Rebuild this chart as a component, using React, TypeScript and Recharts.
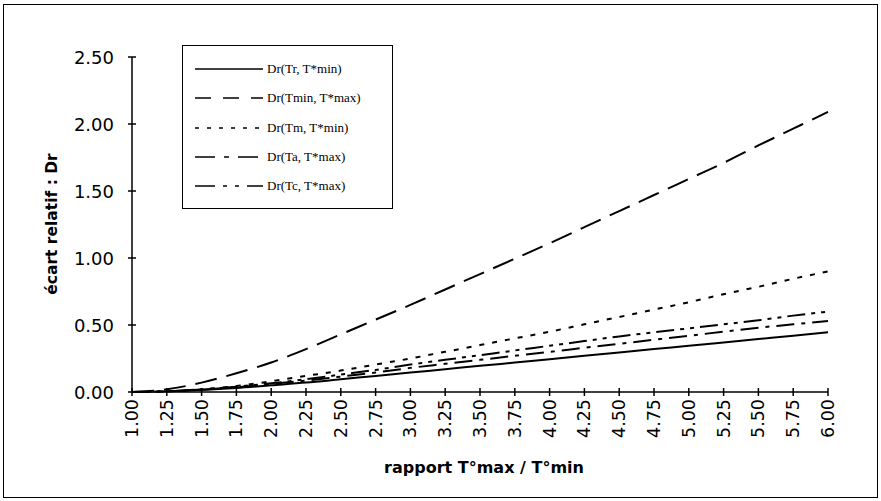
import React from 'react';
import { LineChart, Line, XAxis, YAxis, Legend } from 'recharts';

// rapport T*max / T*min
const ratios = [1.0, 1.25, 1.5, 1.75, 2.0, 2.25, 2.5, 2.75, 3.0, 3.25, 3.5, 3.75, 4.0, 4.25, 4.5, 4.75, 5.0, 5.25, 5.5, 5.75, 6.0];

// écart relatif Dr for each curve
const drTr = [0, 0.005, 0.015, 0.03, 0.05, 0.07, 0.095, 0.12, 0.145, 0.17, 0.195, 0.22, 0.245, 0.27, 0.295, 0.32, 0.345, 0.37, 0.395, 0.42, 0.445];
const drTmin = [0, 0.02, 0.07, 0.14, 0.22, 0.32, 0.43, 0.54, 0.65, 0.765, 0.88, 0.995, 1.11, 1.23, 1.35, 1.47, 1.59, 1.71, 1.84, 1.965, 2.09];
const drTm = [0, 0.005, 0.02, 0.045, 0.08, 0.12, 0.16, 0.205, 0.25, 0.3, 0.35, 0.4, 0.45, 0.505, 0.56, 0.615, 0.67, 0.73, 0.785, 0.845, 0.9];
const drTa = [0, 0.005, 0.018, 0.035, 0.06, 0.085, 0.115, 0.145, 0.18, 0.21, 0.24, 0.27, 0.3, 0.33, 0.36, 0.39, 0.42, 0.45, 0.48, 0.505, 0.53];
const drTc = [0, 0.005, 0.02, 0.04, 0.065, 0.095, 0.13, 0.165, 0.205, 0.24, 0.275, 0.31, 0.345, 0.38, 0.415, 0.445, 0.475, 0.505, 0.535, 0.57, 0.6];

const xTicks = ratios;
const yTicks = [0, 0.5, 1.0, 1.5, 2.0, 2.5];

const seriesNames = ['Dr(Tr, T*min)', 'Dr(Tmin, T*max)', 'Dr(Tm, T*min)', 'Dr(Ta, T*max)', 'Dr(Tc, T*max)'];

const data = ratios.map((r, i) => ({
  ratio: r,
  tr: drTr[i],
  tmin: drTmin[i],
  tm: drTm[i],
  ta: drTa[i],
  tc: drTc[i],
}));

const series = [
  { key: 'tr', dash: undefined },
  { key: 'tmin', dash: '22 10' },
  { key: 'tm', dash: '5 8' },
  { key: 'ta', dash: '18 7 4 7' },
  { key: 'tc', dash: '18 6 4 6 4 6' },
];

const legendDash = [undefined, '16 12', '4 8', '20 9 5 9', '20 8 4 8 4 8'];

const tickFont = '"DejaVu Sans", sans-serif';

const XTick = ({ x, y, payload }: any) => (
  <g>
    <line x1={x} y1={y - 4} x2={x} y2={y + 4} stroke="#000" strokeWidth={1.5} />
    <text
      x={x}
      y={y + 7}
      transform={`rotate(-90, ${x}, ${y + 7})`}
      textAnchor="end"
      dominantBaseline="central"
      fontFamily={tickFont}
      fontSize={17.5}
      fill="#000"
    >
      {Number(payload.value).toFixed(2)}
    </text>
  </g>
);

const YTick = ({ x, y, payload }: any) => (
  <g>
    <line x1={x - 4} y1={y} x2={x + 4} y2={y} stroke="#000" strokeWidth={1.5} />
    <text x={x - 18} y={y} textAnchor="end" dominantBaseline="central" fontFamily={tickFont} fontSize={18} fill="#000">
      {Number(payload.value).toFixed(2)}
    </text>
  </g>
);

const LegendBox = () => (
  <div
    style={{
      width: 211,
      height: 164,
      border: '1.5px solid #000',
      boxSizing: 'border-box',
      background: '#fff',
      position: 'relative',
    }}
  >
    {seriesNames.map((name, i) => (
      <div
        key={name}
        style={{ position: 'absolute', left: 0, top: 13 + i * 29.3, height: 20, display: 'flex', alignItems: 'center' }}
      >
        <svg width={82} height={20}>
          <line x1={12} y1={10} x2={80} y2={10} stroke="#000" strokeWidth={1.5} strokeDasharray={legendDash[i]} />
        </svg>
        <span style={{ fontFamily: '"Liberation Serif", serif', fontSize: 13, marginLeft: 2, whiteSpace: 'nowrap' }}>
          {name}
        </span>
      </div>
    ))}
  </div>
);

export default function App() {
  return (
    <div style={{ position: 'absolute', left: 0, top: 0, width: 881, height: 501, background: '#fff' }}>
      <div
        style={{
          position: 'absolute',
          left: 3,
          top: 4,
          width: 875,
          height: 494,
          border: '1.5px solid #000',
          boxSizing: 'border-box',
        }}
      />
      <LineChart width={881} height={501} data={data} margin={{ top: 57, right: 53, bottom: 49, left: 32 }}>
        <XAxis
          dataKey="ratio"
          type="number"
          domain={[1, 6]}
          ticks={xTicks}
          interval={0}
          tick={<XTick />}
          tickLine={false}
          tickSize={0}
          tickMargin={0}
          height={60}
          axisLine={{ stroke: '#000', strokeWidth: 1.5 }}
          label={{
            content: () => (
              <text x={484} y={467} textAnchor="middle" dominantBaseline="central" fontFamily={tickFont} fontWeight="bold" fontSize={16} fill="#000">
                rapport T°max / T°min
              </text>
            ),
          }}
        />
        <YAxis
          type="number"
          domain={[0, 2.5]}
          ticks={yTicks}
          interval={0}
          tick={<YTick />}
          tickLine={false}
          tickSize={0}
          tickMargin={0}
          width={100}
          axisLine={{ stroke: '#000', strokeWidth: 1.5 }}
          label={{
            content: () => (
              <text
                x={52}
                y={224}
                transform="rotate(-90, 52, 224)"
                textAnchor="middle"
                dominantBaseline="central"
                fontFamily={tickFont}
                fontWeight="bold"
                fontSize={15.5}
                fill="#000"
              >
                écart relatif : Dr
              </text>
            ),
          }}
        />
        <Legend
          layout="vertical"
          align="center"
          verticalAlign="middle"
          content={() => <LegendBox />}
          wrapperStyle={{ left: 182, top: 45, width: 211, height: 164 }}
        />
        {series.map((s, i) => (
          <Line
            key={s.key}
            dataKey={s.key}
            name={seriesNames[i]}
            type="monotone"
            stroke="#000"
            strokeWidth={2}
            strokeDasharray={s.dash}
            dot={false}
            activeDot={false}
            isAnimationActive={false}
          />
        ))}
      </LineChart>
    </div>
  );
}
